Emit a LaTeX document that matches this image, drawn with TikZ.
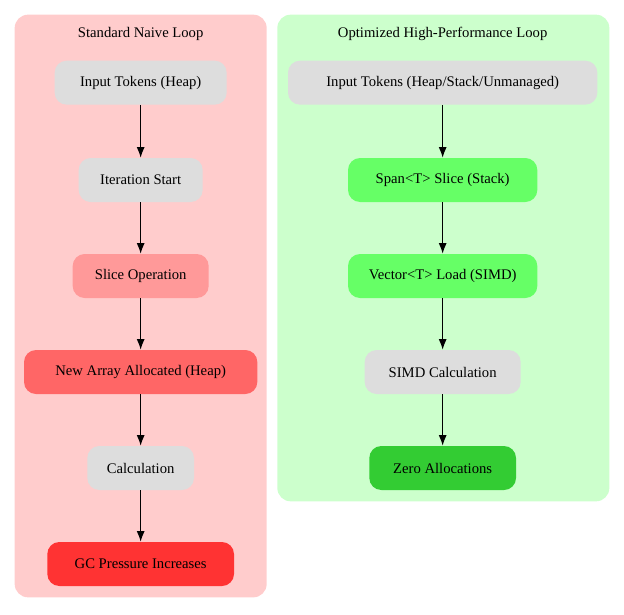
\documentclass[tikz,border=0pt]{standalone}
\usepackage{fontspec}
\setmainfont{Liberation Serif}
\usetikzlibrary{arrows.meta, positioning}
\definecolor{naivebg}{HTML}{FFCCCC}
\definecolor{optbg}{HTML}{CCFFCC}
\definecolor{neutral}{HTML}{DDDDDD}
\definecolor{slicered}{HTML}{FF9999}
\definecolor{allocred}{HTML}{FF6666}
\definecolor{gcred}{HTML}{FF3333}
\definecolor{fastgreen}{HTML}{66FF66}
\definecolor{zerogreen}{HTML}{33CC33}

\begin{document}
\begin{tikzpicture}[
    x=1pt, y=-1pt,
    every node/.style={font=\fontsize{11}{13}\selectfont},
    block/.style={rectangle, rounded corners=9pt, minimum height=33pt, inner xsep=8pt, fill=neutral, align=center},
    cluster/.style={rounded corners=10pt},
    arrow/.style={-{Latex[length=8pt, width=6pt]}, thick}
]
    \useasboundingbox (0,0) rectangle (468,460.5);
    % clusters
    \fill [cluster, naivebg] (11,11) rectangle (200,448);
    \fill [cluster, optbg] (208,11) rectangle (457,376);
    \node at (105.5,25.5) {Standard Naive Loop};
    \node at (332,25.5) {Optimized High-Performance Loop};

    % naive loop
    \node [block, minimum width=129pt] (ninput) at (105.5,62) {Input Tokens (Heap)};
    \node [block, minimum width=93pt] (niter) at (105.5,135) {Iteration Start};
    \node [block, minimum width=102pt, fill=slicered] (nslice) at (105.5,207) {Slice Operation};
    \node [block, minimum width=175pt, fill=allocred] (nalloc) at (105.5,279) {New Array Allocated (Heap)};
    \node [block, minimum width=80pt] (ncalc) at (105.5,351) {Calculation};
    \node [block, minimum width=140pt, fill=gcred] (ngc) at (105.5,423) {GC Pressure Increases};

    % optimized loop
    \node [block, minimum width=232pt] (oinput) at (332,62) {Input Tokens (Heap/Stack/Unmanaged)};
    \node [block, minimum width=142pt, fill=fastgreen] (ospan) at (332,135) {Span<T> Slice (Stack)};
    \node [block, minimum width=142pt, fill=fastgreen] (ovec) at (332,207) {Vector<T> Load (SIMD)};
    \node [block, minimum width=117pt] (ocalc) at (332,279) {SIMD Calculation};
    \node [block, minimum width=110pt, fill=zerogreen] (ozero) at (332,351) {Zero Allocations};

    \draw [arrow] (ninput) -- (niter);
    \draw [arrow] (niter) -- (nslice);
    \draw [arrow] (nslice) -- (nalloc);
    \draw [arrow] (nalloc) -- (ncalc);
    \draw [arrow] (ncalc) -- (ngc);
    \draw [arrow] (oinput) -- (ospan);
    \draw [arrow] (ospan) -- (ovec);
    \draw [arrow] (ovec) -- (ocalc);
    \draw [arrow] (ocalc) -- (ozero);
\end{tikzpicture}
\end{document}
